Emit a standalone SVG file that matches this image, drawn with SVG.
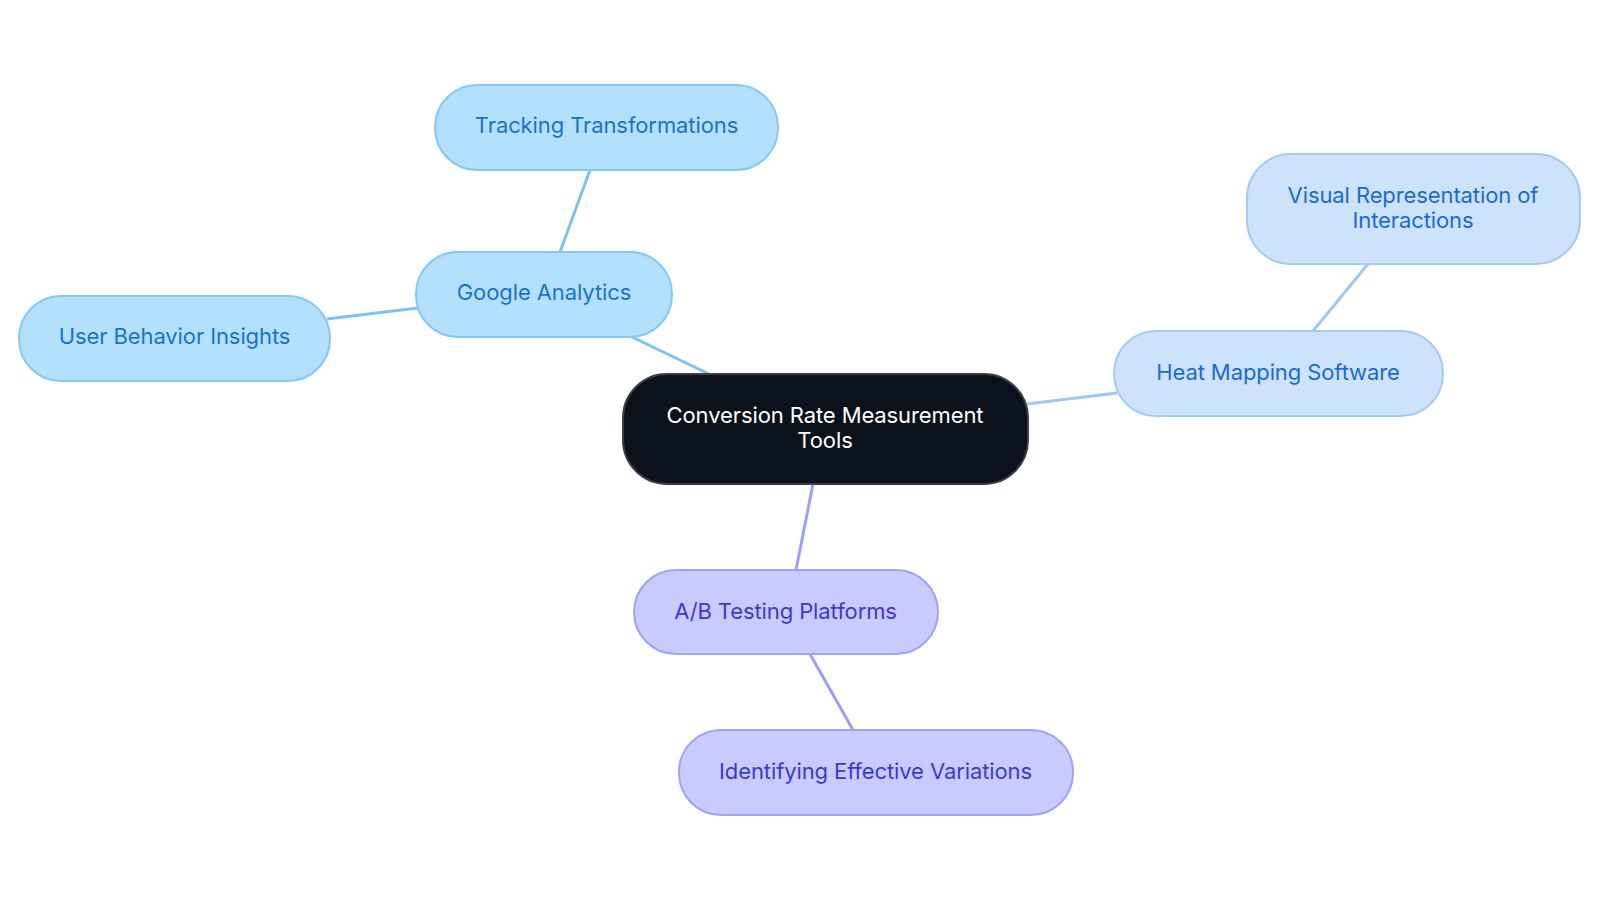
<svg xmlns="http://www.w3.org/2000/svg" width="1600" height="903" viewBox="0 0 1600 903">
<style>
.n1 rect{fill:#b3e0ff;stroke:#86c7f3;stroke-width:2}
.n1 text{fill:#1a73c8}
.n2 rect{fill:#cce3fb;stroke:#a3cbf2;stroke-width:2}
.n2 text{fill:#1a6bd0}
.n3 rect{fill:#c9caff;stroke:#a0a2f5;stroke-width:2}
.n3 text{fill:#3a3ad2}
.c rect{fill:#0c121c;stroke:#3a3f47;stroke-width:2}
.c text{fill:#ffffff}
text{font-family:Inter,"Open Sans","Liberation Sans",sans-serif;font-size:22px;text-anchor:middle;letter-spacing:-0.1px}
.e1{stroke:#7fc1ef;stroke-width:3;fill:none}
.e2{stroke:#a3c8f0;stroke-width:3;fill:none}
.e3{stroke:#9e9ff5;stroke-width:3;fill:none}
</style>
<rect width="1600" height="903" fill="#ffffff"/>
<g id="connectors">
<line class="e1" x1="632" y1="337" x2="711" y2="375"/>
<line class="e1" x1="590" y1="170" x2="560" y2="252"/>
<line class="e1" x1="327" y1="319" x2="418" y2="308"/>
<line class="e2" x1="1027" y1="404" x2="1117" y2="393"/>
<line class="e2" x1="1313" y1="331" x2="1368" y2="264"/>
<line class="e3" x1="813" y1="484" x2="796" y2="570"/>
<line class="e3" x1="810" y1="654" x2="853" y2="730"/>
</g>
<g id="center" class="c">
<rect x="623" y="374" width="405" height="110" rx="44"/>
<text x="825" y="422.5">Conversion Rate Measurement</text>
<text x="825" y="448">Tools</text>
</g>
<g id="google-analytics" class="n1">
<rect x="416" y="252" width="256" height="85" rx="42"/>
<text x="544" y="300">Google Analytics</text>
</g>
<g id="tracking-transformations" class="n1">
<rect x="435" y="85" width="343" height="85" rx="42"/>
<text x="606.5" y="133">Tracking Transformations</text>
</g>
<g id="user-behavior-insights" class="n1">
<rect x="19" y="296" width="311" height="85" rx="42"/>
<text x="174.5" y="344">User Behavior Insights</text>
</g>
<g id="heat-mapping" class="n2">
<rect x="1114" y="331" width="329" height="85" rx="42"/>
<text x="1278" y="380">Heat Mapping Software</text>
</g>
<g id="visual-representation" class="n2">
<rect x="1247" y="154" width="333" height="110" rx="44"/>
<text x="1413" y="203.3">Visual Representation of</text>
<text x="1413" y="227.8">Interactions</text>
</g>
<g id="ab-testing" class="n3">
<rect x="634" y="570" width="304" height="84" rx="42"/>
<text x="785.5" y="618.5">A/B Testing Platforms</text>
</g>
<g id="identifying-variations" class="n3">
<rect x="679" y="730" width="394" height="85" rx="42"/>
<text x="875.5" y="778.5">Identifying Effective Variations</text>
</g>
</svg>
